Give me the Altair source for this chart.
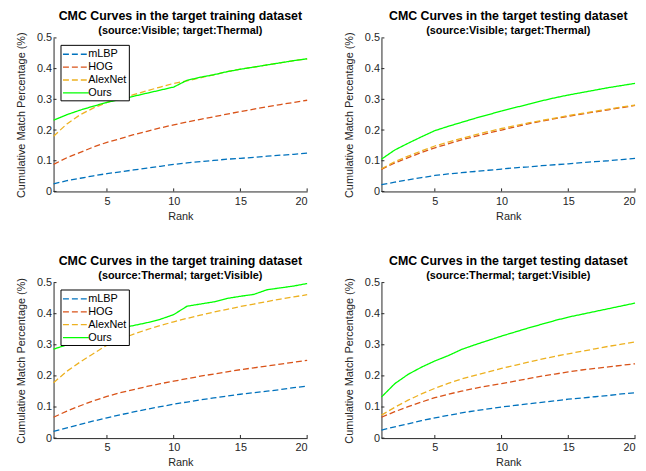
import altair as alt
import pandas as pd

ranks = list(range(1, 21))
methods = ["mLBP", "HOG", "AlexNet", "Ours"]
colors = ["#0072BD", "#D95319", "#EDB120", "#00FF00"]
dashes = [[6, 3], [6, 3], [6, 3], [1, 0]]

x_ticks = [5, 10, 15, 20]
y_ticks = [0, 0.1, 0.2, 0.3, 0.4, 0.5]

titles = [
    "CMC Curves in the target training dataset",
    "CMC Curves in the target testing dataset",
    "CMC Curves in the target training dataset",
    "CMC Curves in the target testing dataset",
]
subtitles = [
    "(source:Visible; target:Thermal)",
    "(source:Visible; target:Thermal)",
    "(source:Thermal; target:Visible)",
    "(source:Thermal; target:Visible)",
]

# Panel 1: training, Visible -> Thermal
p1_mlbp = [0.025, 0.035, 0.043, 0.051, 0.058, 0.064, 0.070, 0.076, 0.082, 0.088,
           0.093, 0.097, 0.101, 0.105, 0.108, 0.111, 0.115, 0.118, 0.121, 0.125]
p1_hog = [0.088, 0.110, 0.127, 0.145, 0.160, 0.172, 0.185, 0.196, 0.207, 0.217,
          0.226, 0.235, 0.243, 0.252, 0.260, 0.268, 0.276, 0.283, 0.290, 0.297]
p1_alex = [0.180, 0.220, 0.250, 0.272, 0.290, 0.303, 0.315, 0.328, 0.340, 0.352,
           0.360, 0.370, 0.380, 0.390, 0.398, 0.405, 0.412, 0.419, 0.426, 0.432]
p1_ours = [0.232, 0.250, 0.265, 0.278, 0.290, 0.300, 0.310, 0.320, 0.330, 0.340,
           0.362, 0.372, 0.380, 0.390, 0.398, 0.405, 0.412, 0.419, 0.426, 0.432]

# Panel 2: testing, Visible -> Thermal
p2_mlbp = [0.022, 0.030, 0.038, 0.045, 0.052, 0.057, 0.061, 0.065, 0.069, 0.073,
           0.077, 0.080, 0.084, 0.087, 0.090, 0.094, 0.097, 0.100, 0.104, 0.108]
p2_hog = [0.072, 0.093, 0.110, 0.127, 0.142, 0.155, 0.168, 0.179, 0.190, 0.200,
          0.210, 0.220, 0.229, 0.237, 0.245, 0.252, 0.259, 0.266, 0.273, 0.280]
p2_alex = [0.074, 0.097, 0.115, 0.132, 0.148, 0.161, 0.173, 0.184, 0.195, 0.205,
           0.214, 0.223, 0.231, 0.239, 0.247, 0.254, 0.261, 0.268, 0.275, 0.281]
p2_ours = [0.105, 0.135, 0.157, 0.178, 0.198, 0.212, 0.225, 0.238, 0.250, 0.262,
           0.273, 0.284, 0.295, 0.305, 0.314, 0.322, 0.330, 0.338, 0.345, 0.352]

# Panel 3: training, Thermal -> Visible
p3_mlbp = [0.022, 0.033, 0.044, 0.055, 0.065, 0.075, 0.084, 0.093, 0.101, 0.109,
           0.116, 0.123, 0.129, 0.135, 0.141, 0.146, 0.151, 0.156, 0.162, 0.167]
p3_hog = [0.067, 0.087, 0.104, 0.120, 0.134, 0.146, 0.156, 0.166, 0.175, 0.183,
          0.191, 0.199, 0.206, 0.213, 0.220, 0.226, 0.232, 0.238, 0.244, 0.250]
p3_alex = [0.178, 0.215, 0.245, 0.272, 0.299, 0.318, 0.334, 0.349, 0.362, 0.374,
           0.385, 0.395, 0.405, 0.414, 0.423, 0.431, 0.439, 0.447, 0.454, 0.461]
p3_ours = [0.286, 0.300, 0.315, 0.330, 0.342, 0.353, 0.362, 0.371, 0.382, 0.397,
           0.424, 0.431, 0.438, 0.449, 0.456, 0.462, 0.477, 0.483, 0.489, 0.497]

# Panel 4: testing, Thermal -> Visible
p4_mlbp = [0.026, 0.036, 0.046, 0.056, 0.065, 0.073, 0.081, 0.088, 0.094, 0.100,
           0.105, 0.110, 0.115, 0.120, 0.125, 0.129, 0.133, 0.137, 0.142, 0.146]
p4_hog = [0.067, 0.085, 0.101, 0.116, 0.130, 0.141, 0.151, 0.160, 0.168, 0.175,
          0.183, 0.191, 0.199, 0.206, 0.213, 0.219, 0.224, 0.229, 0.234, 0.239]
p4_alex = [0.074, 0.099, 0.122, 0.142, 0.160, 0.176, 0.190, 0.202, 0.213, 0.224,
           0.234, 0.244, 0.254, 0.263, 0.271, 0.279, 0.287, 0.295, 0.302, 0.309]
p4_ours = [0.132, 0.175, 0.205, 0.228, 0.248, 0.265, 0.285, 0.300, 0.314, 0.328,
           0.341, 0.354, 0.366, 0.378, 0.389, 0.398, 0.407, 0.416, 0.425, 0.434]

panel_series = [
    [p1_mlbp, p1_hog, p1_alex, p1_ours],
    [p2_mlbp, p2_hog, p2_alex, p2_ours],
    [p3_mlbp, p3_hog, p3_alex, p3_ours],
    [p4_mlbp, p4_hog, p4_alex, p4_ours],
]

FONT = "Liberation Sans"
AX = "#262626"


def panel(series, title, subtitle, w, h):
    rows = []
    for m, vals in zip(methods, series):
        for r, v in zip(ranks, vals):
            rows.append({"rank": r, "value": v, "method": m})
    df = pd.DataFrame(rows)

    x_scale = alt.Scale(domain=[1, 20], nice=False, zero=False)
    y_scale = alt.Scale(domain=[0, 0.5], nice=False)
    x_axis = alt.Axis(values=x_ticks, title="Rank", labelOverlap=False)
    y_axis = alt.Axis(values=y_ticks, format="~g", labelOverlap=False,
                      title="Cumulative Match Percentage (%)")

    lines = alt.Chart(df).mark_line(strokeWidth=1.3).encode(
        x=alt.X("rank:Q", scale=x_scale, axis=x_axis),
        y=alt.Y("value:Q", scale=y_scale, axis=y_axis),
        color=alt.Color("method:N", scale=alt.Scale(domain=methods, range=colors),
                        legend=alt.Legend(title=None)),
        strokeDash=alt.StrokeDash("method:N", scale=alt.Scale(domain=methods, range=dashes),
                                  legend=alt.Legend(title=None)),
    )

    xt = alt.Chart(pd.DataFrame({"rank": x_ticks})).mark_rule(color=AX, strokeWidth=1).encode(
        x=alt.X("rank:Q", scale=x_scale, axis=x_axis),
        y=alt.YDatum(0, scale=y_scale, axis=y_axis),
        y2=alt.Y2Datum(0.01),
    )
    yt = alt.Chart(pd.DataFrame({"value": y_ticks})).mark_rule(color=AX, strokeWidth=1).encode(
        y=alt.Y("value:Q", scale=y_scale, axis=y_axis),
        x=alt.XDatum(1, scale=x_scale, axis=x_axis),
        x2=alt.X2Datum(1.22),
    )

    return alt.layer(lines, xt, yt).properties(
        width=w, height=h,
        title=alt.TitleParams(
            text=title, subtitle=subtitle, font=FONT, fontSize=12.5, fontWeight="bold",
            color="black", subtitleFont=FONT, subtitleFontSize=11,
            subtitleFontWeight="bold", subtitleColor="black", anchor="middle",
            frame="group", offset=-4, subtitlePadding=2,
        ),
    )


charts = [
    panel(panel_series[0], titles[0], subtitles[0], 256, 155),
    panel(panel_series[1], titles[1], subtitles[1], 256, 155),
    panel(panel_series[2], titles[2], subtitles[2], 256, 157),
    panel(panel_series[3], titles[3], subtitles[3], 256, 157),
]

top = alt.hconcat(charts[0], charts[1], spacing=33)
bottom = alt.hconcat(charts[2], charts[3], spacing=33)

chart = alt.vconcat(top, bottom, spacing=34).resolve_scale(
    color="independent", strokeDash="independent"
).resolve_legend(
    color="independent", strokeDash="independent"
).properties(
    padding={"left": 7, "top": 0, "right": 0, "bottom": 0}
).configure_view(
    stroke=None
).configure_axis(
    grid=False, ticks=False, domainColor=AX, domainWidth=1, labelOverlap=False,
    labelColor=AX, labelFont=FONT, labelFontSize=11,
    titleColor=AX, titleFont=FONT, titleFontSize=11, titleFontWeight="normal",
).configure_axisX(
    labelPadding=4, titlePadding=4,
).configure_axisY(
    labelPadding=2, titlePadding=10,
).configure_legend(
    orient="top-left", offset=7, strokeColor="black", fillColor="white",
    padding=2, symbolType="M-2,0H2", symbolSize=169, symbolStrokeWidth=1.3,
    symbolOffset=6, labelOffset=5,
    labelFont=FONT, labelFontSize=11, labelColor="black", rowPadding=0,
    cornerRadius=0,
)

chart.save("out.html", embed_options={"renderer": "svg", "actions": False})
